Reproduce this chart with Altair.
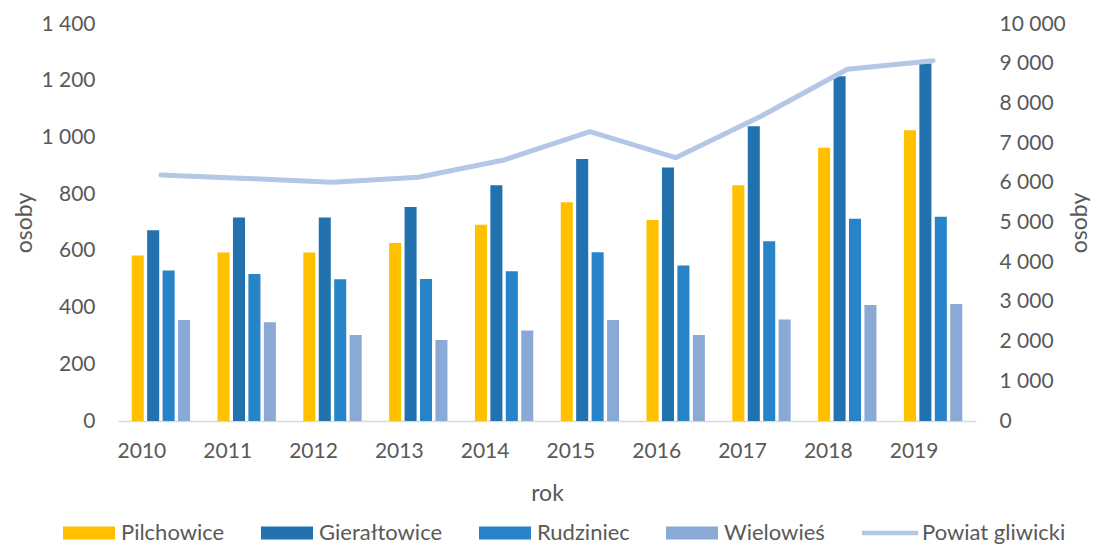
import altair as alt
import pandas as pd

years = ["2010", "2011", "2012", "2013", "2014", "2015", "2016", "2017", "2018", "2019"]
series_names = ["Pilchowice", "Gierałtowice", "Rudziniec", "Wielowieś", "Powiat gliwicki"]
pilchowice = [584, 594, 594, 628, 692, 771, 709, 831, 964, 1025]
gieraltowice = [673, 718, 718, 755, 831, 924, 894, 1039, 1216, 1261]
rudziniec = [531, 518, 500, 501, 528, 595, 548, 634, 713, 720]
wielowies = [356, 348, 303, 286, 319, 356, 303, 358, 409, 413]
powiat = [6197, 6110, 6012, 6138, 6575, 7288, 6633, 7683, 8859, 9076]
left_ticks = [0, 200, 400, 600, 800, 1000, 1200, 1400]
right_ticks = [0, 1000, 2000, 3000, 4000, 5000, 6000, 7000, 8000, 9000, 10000]

colors = ["#FFC000", "#2172AF", "#2884C8", "#8AAAD5", "#B4C7E7"]
rect_path = "M-1,-0.25H1V0.25H-1Z"
line_path = "M-1.08,-0.09H1.08V0.09H-1.08Z"

rows = []
for name, vals in zip(series_names[:4], [pilchowice, gieraltowice, rudziniec, wielowies]):
    for y, v in zip(years, vals):
        rows.append({"year": y, "series": name, "value": v})
bars_df = pd.DataFrame(rows)
line_df = pd.DataFrame({"year": years, "series": "Powiat gliwicki", "value": powiat})

text_color = "#595959"
font = "Lato"
label_expr = "replace(format(datum.value, ','), ',', ' ')"

x_enc = alt.X(
    "year:N",
    sort=years,
    scale=alt.Scale(paddingInner=0.32, paddingOuter=0.16),
    axis=alt.Axis(
        title="rok", labelAngle=0, ticks=False, domainColor="#D9D9D9", domainWidth=1.5,
        labelOffset=-19, labelPadding=19, titleY=72, titleBaseline="middle",
    ),
)

color_scale = alt.Scale(domain=series_names, range=colors)
shape_expr = ("datum.value === 'Powiat gliwicki' ? '" + line_path + "' : '" + rect_path + "'")

bars = alt.Chart(bars_df).mark_bar().encode(
    x=x_enc,
    xOffset=alt.XOffset("series:N", sort=series_names[:4],
                        scale=alt.Scale(paddingInner=0.22, paddingOuter=0)),
    y=alt.Y("value:Q", scale=alt.Scale(domain=[0, 1400], nice=False),
            axis=alt.Axis(title="osoby", values=left_ticks, labelExpr=label_expr,
                          domain=False, ticks=False, grid=False, labelPadding=23,
                          titleX=-94, titleBaseline="middle", titleAngle=270)),
    color=alt.Color("series:N", scale=color_scale,
                    legend=alt.Legend(title=None, orient="none", direction="horizontal",
                                      legendX=-55, legendY=483, symbolSize=2704,
                                      symbolType=alt.ExprRef(expr=shape_expr),
                                      symbolStrokeWidth=0,
                                      labelOffset=6, columnPadding=36)),
)

line = alt.Chart(line_df).mark_line(color="#B4C7E7", strokeWidth=5, strokeCap="round",
                                    strokeJoin="round").encode(
    x=alt.X("year:N", sort=years),
    y=alt.Y("value:Q", scale=alt.Scale(domain=[0, 10000], nice=False),
            axis=alt.Axis(title="osoby", orient="right", values=right_ticks,
                          labelExpr=label_expr, domain=False, ticks=False, grid=False,
                          labelPadding=23, titleX=103, titleBaseline="middle",
                          titleAngle=270)),
)

chart = alt.layer(bars, line).resolve_scale(y="independent").properties(
    width=858, height=397,
    autosize=alt.AutoSizeParams(type="none"),
    padding={"left": 110, "top": 16, "right": 114, "bottom": 123},
).configure_view(stroke=None).configure_axis(
    labelFont=font, titleFont=font, labelFontSize=21, titleFontSize=23,
    labelColor=text_color, titleColor=text_color, titleFontWeight="normal",
).configure_legend(
    labelFont=font, labelFontSize=22, labelColor=text_color,
)

chart.save("out.html", embed_options={"renderer": "svg", "actions": False})
